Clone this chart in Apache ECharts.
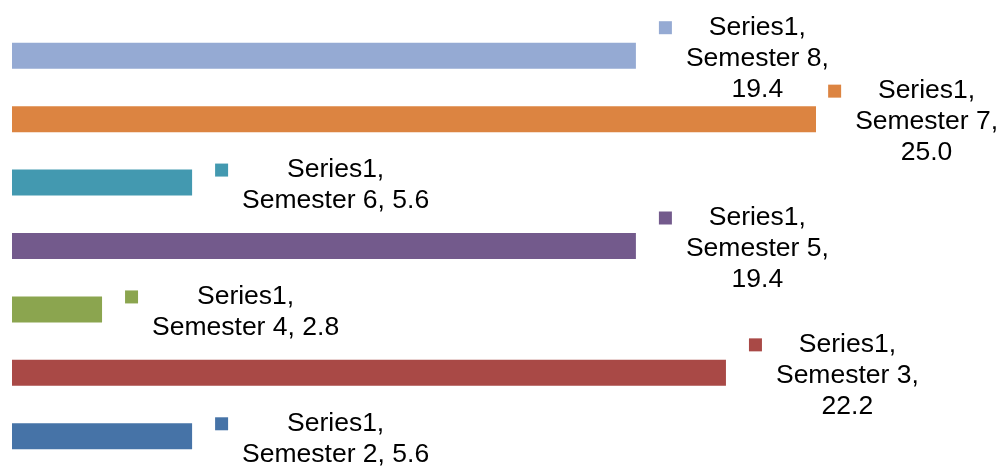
<!DOCTYPE html>
<html>
<head>
<meta charset="utf-8">
<script src="https://cdn.jsdelivr.net/npm/echarts@6/dist/echarts.min.js"></script>
<style>
  html, body { margin: 0; padding: 0; background: #fff; }
  #chart { width: 1000px; height: 468px; }
</style>
</head>
<body>
<div id="chart"></div>
<script>
const seriesName = 'Series1'
const categories = ['Semester 2', 'Semester 3', 'Semester 4', 'Semester 5', 'Semester 6', 'Semester 7', 'Semester 8']
const values = [5.6, 22.2, 2.8, 19.4, 5.6, 25.0, 19.4]
const barColors = ['#4673a7', '#a94946', '#8ba54f', '#735a8c', '#4399b0', '#dc8441', '#95aad3']

const fontFamily = '"Liberation Sans", Arial, sans-serif'
const fontSize = 26.5
const lineH = 31

// rich styles: one marker per bar colour, a gap, a spacer and centred text
const rich = {
  g: { width: 14, height: 13, lineHeight: lineH },
  sp: { width: 27, height: 13, lineHeight: lineH },
  t: { align: 'center', color: '#000', fontFamily, fontSize, lineHeight: lineH }
}
barColors.forEach((c, i) => {
  rich['m' + i] = { width: 13, height: 13, backgroundColor: c, lineHeight: lineH }
})

const labelText = (params) => {
  const i = params.dataIndex
  const val = values[i].toFixed(1)
  const cat = categories[i]
  let out = `{m${i}|}{g|}{t|${seriesName},}\n`
  if (values[i] > 10) {
    out += `{sp|}{t|${cat},}\n{sp|}{t|${val}}`
  } else {
    out += `{sp|}{t|${cat}, ${val}}`
  }
  return out
}

const chart = echarts.init(document.getElementById('chart'))
chart.setOption({
  animation: false,
  backgroundColor: '#fff',
  grid: { left: 12, right: 23.2, top: 24, height: 448, containLabel: false },
  xAxis: { type: 'value', min: 0, max: 30, show: false },
  yAxis: { type: 'category', data: categories, show: false },
  series: [{
    name: seriesName,
    type: 'bar',
    data: values,
    barWidth: 26,
    itemStyle: { color: (p) => barColors[p.dataIndex] },
    label: {
      show: true,
      position: 'right',
      distance: 23,
      formatter: labelText,
      rich,
      fontFamily,
      fontSize,
      lineHeight: lineH,
      color: '#000'
    },
    // nudge labels down a little, and pull the last one back inside the canvas
    labelLayout: (params) => {
      const r = params.labelRect
      const over = r.x + r.width - 998
      return { dx: over > 0 ? -over : 0, dy: 3 }
    }
  }]
})
</script>
</body>
</html>
